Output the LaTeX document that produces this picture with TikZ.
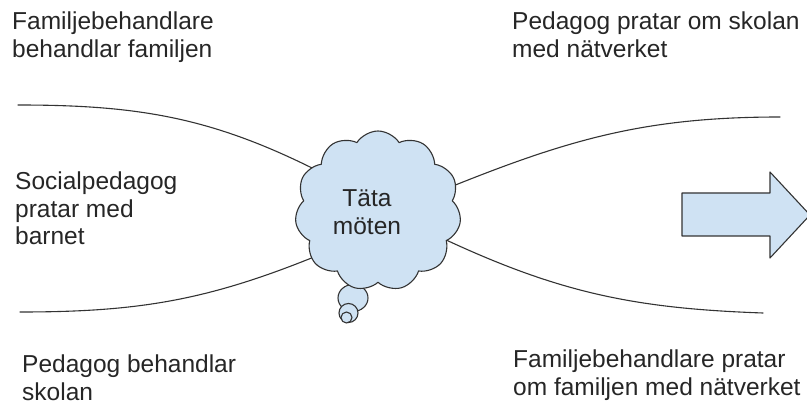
\documentclass[tikz,border=0pt]{standalone}
\usepackage{fontspec}
\setmainfont{Liberation Sans}
\usetikzlibrary{%
  shapes.symbols,% wg. cloud
  positioning%
}
\definecolor{molnbla}{HTML}{CFE2F3}
\definecolor{kant}{HTML}{333333}

\begin{document}
\begin{tikzpicture}[
    x=1pt,y=-1pt,
    line join=round,line cap=round,
    every node/.style={font=\fontsize{24.5}{27.5}\selectfont,text=black!85},
    etikett/.style={anchor=north west,align=left,inner sep=0pt},
    moln/.style={cloud,cloud puffs=11,cloud puff arc=115,aspect=1.05,
        draw=kant,fill=molnbla,line width=1.1pt,
        minimum width=166pt,minimum height=160pt,inner sep=0pt},
    bubbla/.style={draw=kant,fill=molnbla,line width=1.1pt},
    linje/.style={draw=kant,line width=1.1pt}
  ]
    \useasboundingbox (0,0) rectangle (807,401);

    % texter
    \node [etikett] (fambeh)  at (12,12)   {Familjebehandlare\\behandlar familjen};
    \node [etikett] (pedprat) at (512,12)  {Pedagog pratar om skolan\\med nätverket};
    \node [etikett] (socped)  at (15,172)  {Socialpedagog\\pratar med\\barnet};
    \node [etikett] (pedbeh)  at (22,355)  {Pedagog behandlar\\skolan};
    \node [etikett] (famprat) at (513,350) {Familjebehandlare pratar\\om familjen med nätverket};

    % lösa ändar
    \coordinate (vo) at (18,105);
    \coordinate (vu) at (20,312);
    \coordinate (ho) at (780,117);
    \coordinate (hu) at (763,313);
    \coordinate (mvo) at (322,173);
    \coordinate (mvu) at (314,257);
    \coordinate (mho) at (448,188);
    \coordinate (mhu) at (444,239);

    % linjerna bakom molnet
    \draw [linje] (vo) to[out=0,in=153] (mvo);
    \draw [linje] (vu) to[out=0,in=-158] (mvu);
    \draw [linje] (mho) to[out=22,in=180] (ho);
    \draw [linje] (mhu) to[out=-25,in=178] (hu);

    % tankebubblor
    \draw [bubbla] (353,298) circle [x radius=15,y radius=13.5];
    \draw [bubbla] (348.5,313) circle [radius=9.5];
    \draw [bubbla] (346.5,317.5) circle [radius=5.5];

    % molnet
    \node [moln] (moten) at (378,211) {};
    \node [align=center,inner sep=0pt] (motentext) at (367,212) {Täta\\möten};

    % pilen
    \draw [bubbla] (682,193) -- (770,193) -- (770,172) -- (810,215)
        -- (770,258) -- (770,236) -- (682,236) -- cycle;
\end{tikzpicture}
\end{document}
